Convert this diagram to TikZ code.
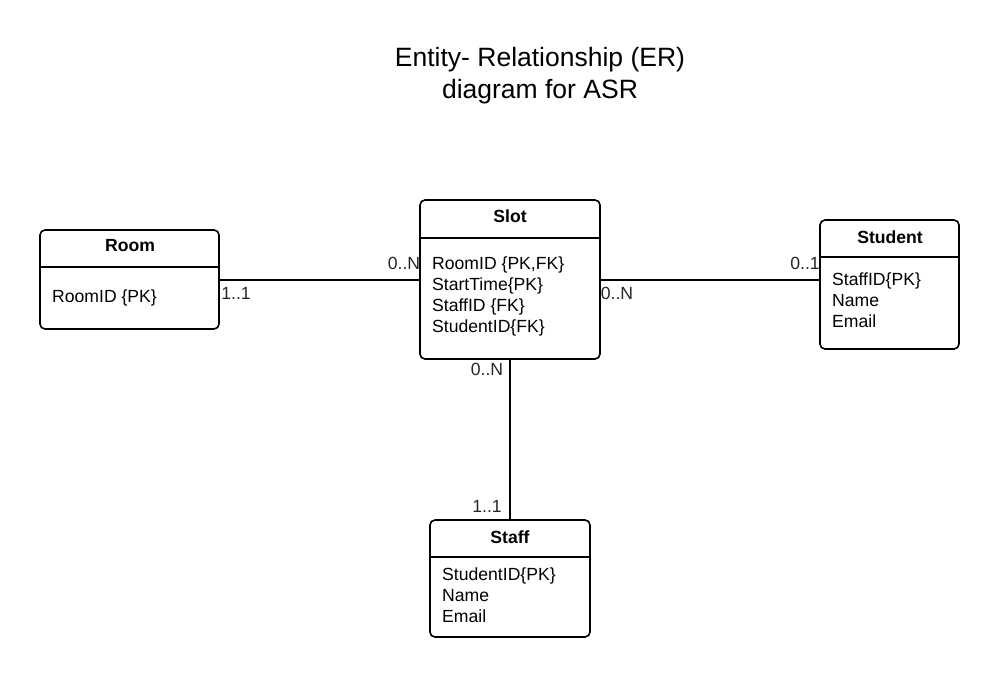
\documentclass[tikz,border=0pt]{standalone}
\usepackage{fontspec}
\setmainfont{Liberation Sans}
\begin{document}
\begin{tikzpicture}[x=1pt,y=-1pt,
  entity/.style={draw, line width=1.6pt, rounded corners=5pt, inner sep=0pt},
  hdr/.style={font=\fontsize{17.6}{20}\selectfont\bfseries, inner sep=0pt},
  attrs/.style={font=\fontsize{17.6}{21}\selectfont, align=left, inner sep=0pt, anchor=north west},
  mult/.style={font=\fontsize{17.6}{20}\selectfont, inner sep=0pt, text=black!85},
  conn/.style={line width=1.6pt},
  sep/.style={line width=1.4pt}]
\useasboundingbox (0,0) rectangle (1000,678);

% title
\node[font=\fontsize{26.5}{32}\selectfont, align=center, inner sep=0pt] (title) at (540,76)
  {Entity- Relationship (ER)\\diagram for ASR};

% entities
\node[entity, minimum width=179pt, minimum height=99pt] (room) at (129.5,279.5) {};
\node[entity, minimum width=180pt, minimum height=159pt] (slot) at (510,279.5) {};
\node[entity, minimum width=139pt, minimum height=129pt] (student) at (889.5,284.5) {};
\node[entity, minimum width=160pt, minimum height=117pt] (staff) at (510,578.5) {};

% header separators
\draw[sep] (room.west |- 0,267) -- (room.east |- 0,267);
\draw[sep] (slot.west |- 0,238) -- (slot.east |- 0,238);
\draw[sep] (student.west |- 0,257) -- (student.east |- 0,257);
\draw[sep] (staff.west |- 0,557) -- (staff.east |- 0,557);

% headers
\node[hdr] (roomh) at (130,246) {Room};
\node[hdr] (sloth) at (510,216) {Slot};
\node[hdr] (studenth) at (890,237) {Student};
\node[hdr] (staffh) at (510,537) {Staff};

% attributes
\node[attrs] (rooma) at (52,290) {RoomID \{PK\}};
\node[attrs] (slota) at (432,257) {RoomID \{PK,FK\}\\StartTime\{PK\}\\StaffID \{FK\}\\StudentID\{FK\}};
\node[attrs] (studenta) at (832,273) {StaffID\{PK\}\\Name\\Email};
\node[attrs] (staffa) at (442,568) {StudentID\{PK\}\\Name\\Email};

% connectors
\draw[conn] (room.east |- 0,280) -- (slot.west |- 0,280);
\draw[conn] (slot.east |- 0,280) -- (student.west |- 0,280);
\draw[conn] (slot.south) -- (staff.north);

% multiplicities
\node[mult] (m1) at (236,293) {1..1};
\node[mult] (m2) at (404,263) {0..N};
\node[mult] (m3) at (617,293) {0..N};
\node[mult] (m4) at (805,263) {0..1};
\node[mult] (m5) at (487,369) {0..N};
\node[mult] (m6) at (487,506) {1..1};
\end{tikzpicture}
\end{document}
